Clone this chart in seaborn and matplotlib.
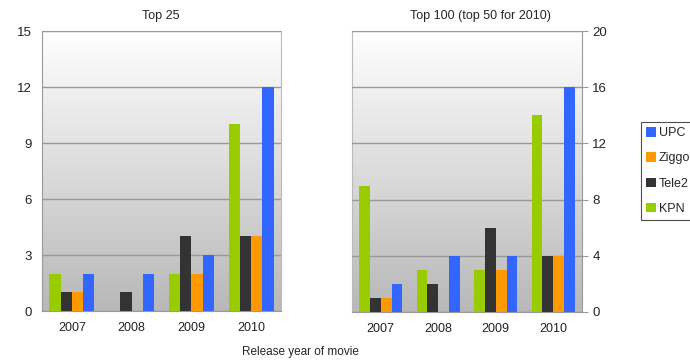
import numpy as np
import pandas as pd
import matplotlib
matplotlib.use("Agg")
import matplotlib.pyplot as plt
import seaborn as sns
from matplotlib.patches import Patch

years = ["2007", "2008", "2009", "2010"]
providers = ["KPN", "Tele2", "Ziggo", "UPC"]
colors = {"KPN": "#99cc00", "Tele2": "#333333", "Ziggo": "#ff9900", "UPC": "#3366ff"}

top25 = {
    "KPN":   [2, 0, 2, 10],
    "Tele2": [1, 1, 4, 4],
    "Ziggo": [1, 0, 2, 4],
    "UPC":   [2, 2, 3, 12],
}
top100 = {
    "KPN":   [9, 3, 3, 14],
    "Tele2": [1, 2, 6, 4],
    "Ziggo": [1, 0, 3, 4],
    "UPC":   [2, 4, 4, 16],
}

def to_df(d):
    rows = []
    for p in providers:
        for y, v in zip(years, d[p]):
            rows.append({"year": y, "provider": p, "count": v})
    return pd.DataFrame(rows)

sns.set_theme(style="white")
plt.rcParams["font.family"] = ["Liberation Sans", "DejaVu Sans"]

fig = plt.figure(figsize=(6.9, 3.61), dpi=100)
ax1 = fig.add_axes([42/690, 50/361, 239/690, 280/361])
ax2 = fig.add_axes([352/690, 49/361, 230/690, 281/361])

grad = np.linspace(1, 0, 256).reshape(-1, 1)
cmap = matplotlib.colors.LinearSegmentedColormap.from_list("g", ["#b8b8b8", "#ffffff"])

for ax, d, ymax, step in [(ax1, top25, 15, 3), (ax2, top100, 20, 4)]:
    df = to_df(d)
    sns.barplot(data=df, x="year", y="count", hue="provider", hue_order=providers,
                palette=colors, width=0.75, gap=0, saturation=1, ax=ax,
                legend=False, zorder=3, linewidth=0, edgecolor="none")
    ax.imshow(grad, extent=[0, 1, 0, 1], transform=ax.transAxes, cmap=cmap,
              aspect="auto", zorder=0, vmin=0, vmax=1)
    ax.set_xlim(-0.5, 3.5)
    ax.set_ylim(0, ymax)
    ax.set_yticks(np.arange(0, ymax + 1, step))
    ax.yaxis.grid(True, color="#999999", linewidth=1.0, zorder=1)
    ax.set_axisbelow(False)
    for b in ax.patches:
        b.set_zorder(3)
    ax.set_xlabel("")
    ax.set_ylabel("")
    ax.set_xticks(range(4))
    ax.set_xticklabels(years)
    ax.set_xticks([0.5, 1.5, 2.5, 3.5, -0.5], minor=True)
    ax.tick_params(axis="x", which="major", length=0, pad=8, labelsize=9, colors="#222222")
    ax.tick_params(axis="x", which="minor", length=4, width=0.8, color="#999999", direction="out")
    ax.tick_params(axis="y", length=4, width=0.8, color="#999999", labelsize=9.5,
                   colors="#222222", direction="out")
    ax.tick_params(axis="y", colors="#999999", labelcolor="#222222")
    for s in ax.spines.values():
        s.set_color("#bbbbbb")
        s.set_linewidth(0.8)
    ax.spines["bottom"].set_color("#999999")

ax2.yaxis.tick_right()
ax2.spines["right"].set_color("#999999")
ax1.spines["left"].set_color("#999999")

fig.text(161/690, 1 - 16/361, "Top 25", ha="center", va="center", fontsize=9)
fig.text(480/690, 1 - 16/361, "Top 100 (top 50 for 2010)", ha="center", va="center", fontsize=9)
fig.text(300/690, 1 - 352/361, "Release year of movie", ha="center", va="center", fontsize=8.5)

handles = [Patch(facecolor=colors[p], edgecolor="none") for p in ["UPC", "Ziggo", "Tele2", "KPN"]]
leg = fig.legend(handles, ["UPC", "Ziggo", "Tele2", "KPN"], loc="upper left",
                 bbox_to_anchor=(641/690, 1 - 122/361), frameon=True, fontsize=9,
                 handlelength=0.8, handleheight=0.8, handletextpad=0.2,
                 labelspacing=1.05, borderpad=0.4, fancybox=False, borderaxespad=0)
leg.get_frame().set_edgecolor("#222222")
leg.get_frame().set_linewidth(0.8)

fig.savefig("out.png", dpi=100)
